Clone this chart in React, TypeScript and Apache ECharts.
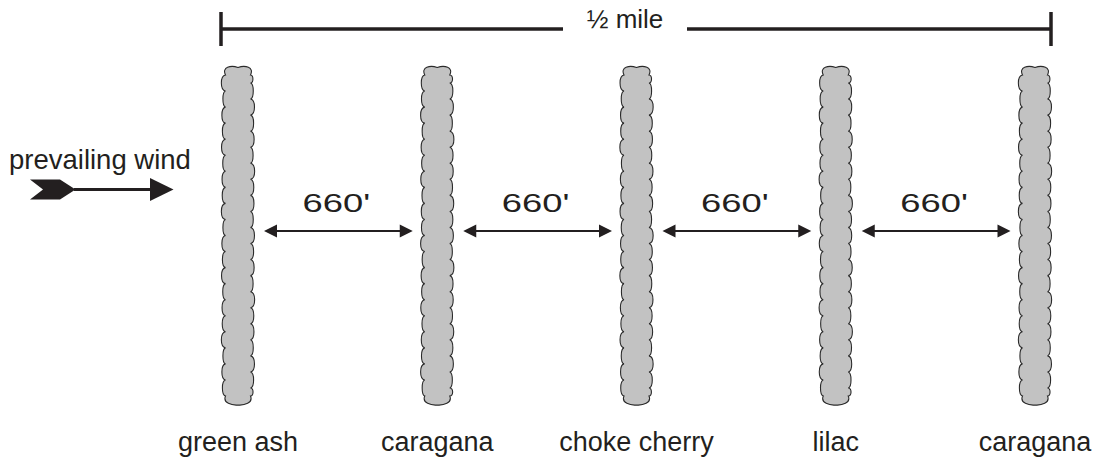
import React, { useEffect, useRef } from "react";
import * as echarts from "echarts";

// ---- data ----
const species = ["green ash", "caragana", "choke cherry", "lilac", "caragana"];
const rowPositionsFt = [0, 660, 1320, 1980, 2640];
const spacingLabels = ["660'", "660'", "660'", "660'"];
const totalDistanceLabel = "½ mile";
const windLabel = "prevailing wind";

const INK = "#231f20";
const FONT = "'Liberation Sans', Arial, Helvetica, sans-serif";
const ARROW_Y = 0.5133;
// hand-drawn look: repeating amplitude pattern for the scalloped edges
const WOBBLE = [1, 0.8, 1.15, 0.9, 1.05, 0.75, 1.2, 0.95];

function stripPath(cx: number, yT: number, yB: number, seed: number): string {
  const half = 12.5;
  const xL = cx - half;
  const xR = cx + half;
  const b = 4.6;
  const cap = 9;
  const start = yT + cap;
  const end = yB - cap;
  const n = Math.max(2, Math.round((end - start) / 16));
  const step = (end - start) / n;
  let d = `M ${xL} ${start} C ${xL - 4} ${yT + 1} ${cx - 7} ${yT - 1} ${cx} ${yT + 1.5} C ${cx + 7} ${yT - 1} ${xR + 4} ${yT + 1} ${xR} ${start}`;
  // right side: shifted by half a scallop
  const rPts: number[] = [start, start + step * 0.5];
  for (let i = 1; i < n; i++) rPts.push(start + step * 0.5 + i * step);
  rPts.push(end);
  for (let i = 0; i < rPts.length - 1; i++) {
    const y0 = rPts[i];
    const y1 = rPts[i + 1];
    const h = y1 - y0;
    const a = b * WOBBLE[(i + seed) % WOBBLE.length] * (h < step * 0.75 ? 0.7 : 1);
    d += ` C ${xR + a} ${y0 + h * 0.05} ${xR + a} ${y1 - h * 0.05} ${xR} ${y1}`;
  }
  d += ` C ${xR + 3} ${yB - 2} ${cx + 6} ${yB + 0.5} ${cx} ${yB} C ${cx - 6} ${yB + 0.5} ${xL - 3} ${yB - 2} ${xL} ${end}`;
  for (let i = 0; i < n; i++) {
    const y0 = end - i * step;
    const y1 = y0 - step;
    const a = b * WOBBLE[(i + seed + 3) % WOBBLE.length];
    d += ` C ${xL - a} ${y0 - step * 0.05} ${xL - a} ${y1 + step * 0.05} ${xL} ${y1}`;
  }
  d += " Z";
  return d;
}

export default function App() {
  const ref = useRef<HTMLDivElement>(null);
  useEffect(() => {
    if (!ref.current) return;
    const chart = echarts.init(ref.current, null, { renderer: "svg" });
    const option: any = {
      animation: false,
      backgroundColor: "#ffffff",
      grid: { left: 238, right: 58, top: 66, bottom: 52, outerBoundsMode: "none" },
      xAxis: {
        type: "value",
        min: 0,
        max: 2640,
        interval: 660,
        axisLine: { show: false },
        axisTick: { show: false },
        splitLine: { show: false },
        axisLabel: {
          show: true,
          showMinLabel: true,
          showMaxLabel: true,
          margin: 23,
          fontSize: 27,
          fontFamily: FONT,
          color: INK,
          formatter: (v: number) => {
            const i = rowPositionsFt.indexOf(v);
            return i >= 0 ? species[i] : "";
          },
        },
      },
      yAxis: { type: "value", min: 0, max: 1, show: false },
      series: [
        {
          type: "custom",
          silent: true,
          clip: false,
          data: rowPositionsFt.map((x) => [x, 0]),
          encode: { x: 0, y: 1 },
          renderItem: (params: any, api: any) => {
            const x = api.value(0);
            const top = api.coord([x, 1]);
            const bot = api.coord([x, 0]);
            return {
              type: "path",
              shape: { pathData: stripPath(top[0], top[1], bot[1], params.dataIndex * 2) },
              style: { fill: "#c2c2c2", stroke: "#2a2a2a", lineWidth: 1.1 },
            };
          },
        },
        {
          type: "custom",
          silent: true,
          clip: false,
          data: spacingLabels.map((_, i) => [rowPositionsFt[i], ARROW_Y, rowPositionsFt[i + 1]]),
          encode: { x: 0, y: 1 },
          renderItem: (params: any, api: any) => {
            const p1 = api.coord([api.value(0), ARROW_Y]);
            const p2 = api.coord([api.value(2), ARROW_Y]);
            const a = p1[0] + 26;
            const b = p2[0] - 24.5;
            const y = p1[1];
            const hl = 13;
            const hw = 6.5;
            return {
              type: "group",
              children: [
                { type: "line", shape: { x1: a + hl - 2, y1: y, x2: b - hl + 2, y2: y }, style: { stroke: INK, lineWidth: 1.8 } },
                { type: "polygon", shape: { points: [[a, y], [a + hl, y - hw], [a + hl, y + hw]] }, style: { fill: INK } },
                { type: "polygon", shape: { points: [[b, y], [b - hl, y - hw], [b - hl, y + hw]] }, style: { fill: INK } },
                {
                  type: "text",
                  x: (a + b) / 2 - 2,
                  y: y - 28,
                  scaleX: 1.4,
                  style: { text: spacingLabels[params.dataIndex], fontSize: 26, fontFamily: FONT, fill: INK, align: "center", verticalAlign: "middle" },
                },
              ],
            };
          },
        },
        {
          type: "custom",
          silent: true,
          clip: false,
          data: [[rowPositionsFt[0], 1, rowPositionsFt[rowPositionsFt.length - 1]]],
          encode: { x: 0, y: 1 },
          renderItem: (params: any, api: any) => {
            const l = api.coord([api.value(0), 1]);
            const r = api.coord([api.value(2), 1]);
            const xL = l[0] - 17;
            const xR = r[0] + 16;
            const y = l[1] - 37;
            const tc = (xL + xR) / 2 - 11;
            const st = { stroke: INK, lineWidth: 3.5 };
            return {
              type: "group",
              children: [
                { type: "line", shape: { x1: xL, y1: y, x2: tc - 62, y2: y }, style: st },
                { type: "line", shape: { x1: tc + 62, y1: y, x2: xR, y2: y }, style: st },
                { type: "line", shape: { x1: xL, y1: y - 17, x2: xL, y2: y + 17 }, style: st },
                { type: "line", shape: { x1: xR, y1: y - 17, x2: xR, y2: y + 17 }, style: st },
                {
                  type: "text",
                  x: tc,
                  y: y - 10,
                  style: { text: totalDistanceLabel, fontSize: 26, fontFamily: FONT, fill: INK, align: "center", verticalAlign: "middle" },
                },
              ],
            };
          },
        },
      ],
      graphic: [
        {
          type: "text",
          x: 9,
          y: 159,
          silent: true,
          style: { text: windLabel, fontSize: 27.5, fontFamily: FONT, fill: INK, align: "left", verticalAlign: "middle" },
        },
        {
          type: "polygon",
          silent: true,
          shape: { points: [[30, 179.5], [60, 179.5], [75.5, 189.5], [60, 199.5], [30, 199.5], [43, 189.5]] },
          style: { fill: INK },
        },
        {
          type: "line",
          silent: true,
          shape: { x1: 74, y1: 189.5, x2: 152, y2: 189.5 },
          style: { stroke: INK, lineWidth: 3 },
        },
        {
          type: "polygon",
          silent: true,
          shape: { points: [[150, 178], [173.5, 189.5], [150, 201]] },
          style: { fill: INK },
        },
      ],
    };
    chart.setOption(option);
    return () => chart.dispose();
  }, []);
  return (
    <div
      ref={ref}
      style={{ position: "absolute", left: 0, top: 0, width: 1093, height: 457, background: "#fff" }}
    />
  );
}
